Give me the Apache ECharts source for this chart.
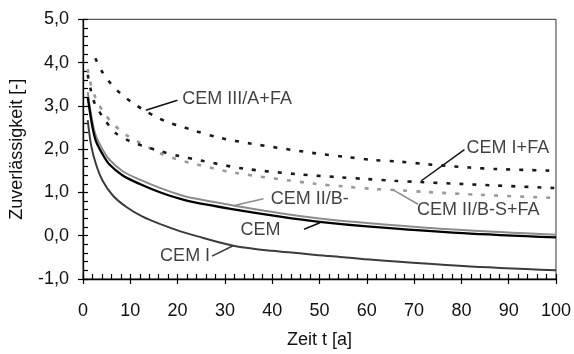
<!DOCTYPE html>
<html><head><meta charset="utf-8">
<script src="https://cdn.jsdelivr.net/npm/echarts@6/dist/echarts.min.js"></script>
<style>html,body{margin:0;padding:0;background:#fff}#c{width:574px;height:354px}</style>
</head><body><div id="c"></div>
<script>
// ---- data (t in years, reliability index) ----
const xTicks = [0,10,20,30,40,50,60,70,80,90,100];
const yTicks = [-1,0,1,2,3,4,5];

const cemI = [[1.0,2.67],[1.7,2.10],[2.75,1.65],[4.15,1.27],[6.3,0.93],[9.1,0.67],[12.6,0.44],[16.8,0.25],[20.6,0.10],[23.1,0.02],[31.8,-0.23],[40,-0.35],[52.2,-0.47],[60.6,-0.55],[80.3,-0.70],[100,-0.80]];
const cem = [[1.0,3.20],[1.35,2.94],[2.05,2.48],[2.75,2.18],[4.15,1.88],[5.55,1.65],[8.4,1.39],[11.9,1.20],[16.1,1.01],[20.6,0.85],[23.1,0.78],[31.2,0.62],[41.7,0.44],[50,0.32],[60.7,0.21],[80.3,0.06],[100,-0.04]];
const cemIIB = [[1.0,3.32],[1.35,3.05],[2.05,2.60],[2.75,2.30],[4.15,1.99],[5.55,1.76],[8.4,1.49],[11.9,1.30],[16.1,1.11],[20.6,0.94],[23.1,0.87],[31.2,0.71],[41.7,0.52],[50,0.40],[60.7,0.29],[80.3,0.13],[100,0.02]];
const cemIIBSFA = [[1.0,3.85],[1.35,3.62],[2.7,3.17],[4.5,2.83],[6.6,2.56],[9.1,2.33],[11.5,2.18],[14,2.03],[16.8,1.88],[20,1.76],[22.4,1.69],[31.8,1.46],[49.1,1.20],[55,1.14],[61.3,1.08],[67,1.05],[72.6,1.01],[83.8,0.945],[100,0.87]];
const cemIFA = [[1.0,3.72],[1.6,3.39],[2.5,3.05],[4.4,2.71],[6.9,2.37],[10,2.18],[12.9,2.07],[16.4,1.95],[20,1.85],[25.2,1.73],[34,1.55],[45.5,1.42],[54.4,1.35],[59.9,1.31],[65.9,1.27],[71.2,1.24],[80.3,1.195],[87.4,1.16],[100,1.10]];
const cemIIIAFA = [[2.6,4.10],[4.15,3.77],[5.9,3.51],[8.0,3.28],[10.5,3.07],[12.9,2.90],[15.7,2.73],[18.2,2.61],[21.0,2.52],[23.4,2.43],[29.0,2.26],[35.4,2.13],[49.4,1.90],[55.7,1.82],[61.3,1.75],[67,1.71],[72.9,1.65],[81.7,1.575],[87.4,1.54],[100,1.50]];

// annotation texts with anchor (data coords) and leader line (data coords)
const labelTexts = ['CEM III/A+FA','CEM I+FA','CEM II/B-S+FA','CEM II/B-','CEM','CEM I'];
const labelAnchors = [[20.9,3.165],[81.0,2.03],[70.5,0.59],[39.6,0.855],[33.2,0.12],[16.2,-0.47]];
const leaderLines = [
  [[19.96,3.13],[13.28,2.90]],
  [[80.65,1.99],[71.54,1.27]],
  [[70.83,0.727],[65.56,1.059]],
  [[38.15,0.855],[32.19,0.705]],
  [[46.73,0.15],[50.1,0.30]],
  [[27.28,-0.47],[31.83,-0.227]]
];
const leaderColors = ['#111','#111','#8c8c8c','#8c8c8c','#111','#3c3c3c'];

const FONT = 'Liberation Sans';
const fmtY = v => v.toFixed(1).replace('.', ',');

const chart = echarts.init(document.getElementById('c'), null, {renderer:'canvas'});
const solid = (name, data, color, w) => ({
  name, type:'line', data, showSymbol:false, smooth:0.3,
  lineStyle:{color, width:w}, z:3
});
const dashed = (name, data, color) => ({
  name, type:'line', data, showSymbol:false, smooth:0.3,
  lineStyle:{color, width:2.6, type:[4,9], cap:'butt'}, z:3
});

chart.setOption({
  animation:false,
  backgroundColor:'#fff',
  grid:{left:82.3, right:17.3, top:19.3, bottom:70.7, show:true, borderColor:'#333', borderWidth:1},
  xAxis:[{
    type:'value', min:xTicks[0], max:xTicks[xTicks.length-1], interval:10,
    axisLine:{show:true, onZero:false, lineStyle:{color:'#000', width:1.3}},
    axisTick:{show:true, inside:true, length:5, lineStyle:{color:'#000', width:1.2}},
    minorTick:{show:true, splitNumber:5, length:5, lineStyle:{color:'#000', width:1.2}},
    splitLine:{show:false},
    axisLabel:{margin:23, fontSize:18, fontFamily:FONT, color:'#111'},
    name:'Zeit t [a]', nameLocation:'middle', nameGap:52,
    nameTextStyle:{fontSize:18, fontFamily:FONT, color:'#111'}
  },{
    type:'value', min:xTicks[0], max:xTicks[xTicks.length-1], interval:10, position:'bottom',
    axisLine:{show:false, onZero:false}, axisTick:{show:true, inside:false, length:5, lineStyle:{color:'#000', width:1.2}},
    axisLabel:{show:false}, splitLine:{show:false}
  }],
  yAxis:[{
    type:'value', min:yTicks[0], max:yTicks[yTicks.length-1], interval:1,
    axisLine:{show:true, onZero:false, lineStyle:{color:'#000', width:1.3}},
    axisTick:{show:true, inside:true, length:5, lineStyle:{color:'#000', width:1.2}},
    minorTick:{show:true, splitNumber:5, length:5, lineStyle:{color:'#000', width:1.2}},
    splitLine:{show:false},
    axisLabel:{margin:14, fontSize:18, fontFamily:FONT, color:'#111', formatter:fmtY},
    name:'Zuverlässigkeit [-]', nameLocation:'middle', nameGap:57,
    nameTextStyle:{fontSize:18, fontFamily:FONT, color:'#111'}
  },{
    type:'value', min:yTicks[0], max:yTicks[yTicks.length-1], interval:1, position:'left',
    axisLine:{show:false, onZero:false}, axisTick:{show:true, inside:false, length:5, lineStyle:{color:'#000', width:1.2}},
    axisLabel:{show:false}, splitLine:{show:false}
  }],
  series:[
    solid('CEM I', cemI, '#3c3c3c', 2),
    solid('CEM II/B-', cemIIB, '#8c8c8c', 2),
    solid('CEM', cem, '#000', 2.3),
    dashed('CEM II/B-S+FA', cemIIBSFA, '#9a9a9a'),
    dashed('CEM I+FA', cemIFA, '#1a1a1a'),
    dashed('CEM III/A+FA', cemIIIAFA, '#1a1a1a'),
    {
      type:'lines', coordinateSystem:'cartesian2d', z:4,
      data: leaderLines.map((c,i)=>({coords:c, lineStyle:{color:leaderColors[i], width:1.5}})),
      lineStyle:{width:1.5, opacity:1}
    },
    {
      type:'scatter', symbol:'circle', symbolSize:1, itemStyle:{color:'rgba(0,0,0,0)'}, z:5,
      silent:true,
      data: labelAnchors.map((a,i)=>({value:[a[0],a[1]], name:labelTexts[i]})),
      label:{show:true, position:'right', distance:0, formatter:p=>p.name,
        fontSize:18, fontFamily:FONT, color:'#111'}
    }
  ]
});
</script>
</body></html>
